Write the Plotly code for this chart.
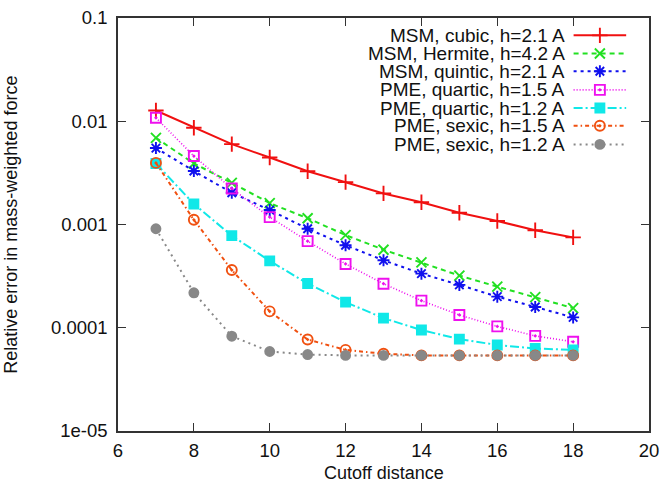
import plotly.graph_objects as go

cutoff = [7, 8, 9, 10, 11, 12, 13, 14, 15, 16, 17, 18]

msm_cubic_21 = [0.0127, 0.00865, 0.0060, 0.00445, 0.00328, 0.00257, 0.0020, 0.00164, 0.0013, 0.00108, 0.00088, 0.00075]
msm_hermite_42 = [0.0069, 0.0039, 0.00253, 0.00161, 0.00115, 0.00079, 0.00057, 0.00043, 0.00032, 0.00025, 0.000198, 0.000155]
msm_quintic_21 = [0.0055, 0.0033, 0.00203, 0.00138, 0.00091, 0.00063, 0.00045, 0.000334, 0.00026, 0.0002, 0.000159, 0.000126]
pme_quartic_15 = [0.0108, 0.0046, 0.00223, 0.00118, 0.00069, 0.000415, 0.000267, 0.000183, 0.000133, 0.000103, 0.0000834, 0.0000731]
pme_quartic_12 = [0.0039, 0.00158, 0.00078, 0.000444, 0.000268, 0.000177, 0.000124, 0.000095, 0.0000776, 0.0000681, 0.0000629, 0.000061]
pme_sexic_15 = [0.00395, 0.00111, 0.000362, 0.000144, 0.0000769, 0.000061, 0.000056, 0.000054, 0.000054, 0.000054, 0.000054, 0.000054]
pme_sexic_12 = [0.00091, 0.000218, 0.0000828, 0.0000589, 0.000055, 0.000054, 0.000054, 0.000054, 0.000054, 0.000054, 0.000054, 0.000054]

series_names = [
    "MSM, cubic, h=2.1 A",
    "MSM, Hermite, h=4.2 A",
    "MSM, quintic, h=2.1 A",
    "PME, quartic, h=1.5 A",
    "PME, quartic, h=1.2 A",
    "PME, sexic, h=1.5 A",
    "PME, sexic, h=1.2 A",
]
series_values = [msm_cubic_21, msm_hermite_42, msm_quintic_21, pme_quartic_15,
                 pme_quartic_12, pme_sexic_15, pme_sexic_12]

x_ticks = [6, 8, 10, 12, 14, 16, 18, 20]
y_tickvals = [1e-5, 1e-4, 1e-3, 1e-2, 1e-1]
y_ticktext = ["1e-05", "0.0001", "0.001", "0.01", "0.1"]

styles = [
    dict(color="#f01010", dash="solid", symbol="cross-thin-open", size=11, lw=2),
    dict(color="#22e022", dash="5px,4px", symbol="x-thin-open", size=10, lw=2),
    dict(color="#1010ee", dash="3px,4px", symbol="asterisk-open", size=10, lw=2),
    dict(color="#ee10ee", dash="1px,2px", symbol="square-open-dot", size=10, lw=1.6),
    dict(color="#10e8e8", dash="9px,3px,2px,3px", symbol="square", size=9, lw=2),
    dict(color="#f05010", dash="4px,3px,1.5px,3px", symbol="circle-open-dot", size=10, lw=2),
    dict(color="#888888", dash="2px,4px", symbol="circle", size=9, lw=2),
]

FONT = "Liberation Sans, Arial, sans-serif"
fig = go.Figure()

for name, vals, st in zip(series_names, series_values, styles):
    fig.add_trace(go.Scatter(
        x=cutoff, y=vals, name=name, mode="lines+markers",
        line=dict(color=st["color"], width=st["lw"], dash=st["dash"]),
        marker=dict(symbol=st["symbol"], size=st["size"], color=st["color"],
                    line=dict(color=st["color"], width=1.9)),
        showlegend=False,
    ))

# manual legend (text on the left, sample on the right) drawn on overlay axes
row_y = [0.958, 0.914, 0.871, 0.826, 0.782, 0.739, 0.694]
for name, st, ry in zip(series_names, styles, row_y):
    fig.add_trace(go.Scatter(
        x=[0.858, 0.957], y=[ry, ry], mode="lines", xaxis="x2", yaxis="y2",
        line=dict(color=st["color"], width=st["lw"], dash=st["dash"]),
        showlegend=False, hoverinfo="skip",
    ))
    fig.add_trace(go.Scatter(
        x=[0.9075], y=[ry], mode="markers", xaxis="x2", yaxis="y2",
        marker=dict(symbol=st["symbol"], size=st["size"], color=st["color"],
                    line=dict(color=st["color"], width=1.9)),
        showlegend=False, hoverinfo="skip",
    ))
    fig.add_annotation(x=0.846, y=ry, xref="paper", yref="paper", text=name,
                       showarrow=False, xanchor="right", yanchor="middle",
                       font=dict(size=19, color="#111111", family=FONT))

fig.add_annotation(x=0.5, y=-0.102, xref="paper", yref="paper", text="Cutoff distance",
                   showarrow=False, xanchor="center", yanchor="middle",
                   font=dict(size=18, color="#111111", family=FONT))
fig.add_annotation(x=-0.203, y=0.5, xref="paper", yref="paper",
                   text="Relative error in mass-weighted force", textangle=-90,
                   showarrow=False, xanchor="center", yanchor="middle",
                   font=dict(size=18, color="#111111", family=FONT))

axis_common = dict(showgrid=False, zeroline=False, showline=True, linecolor="#333333",
                   linewidth=1.5, mirror="ticks", ticks="inside", ticklen=8,
                   tickwidth=1.3, tickcolor="#333333", ticklabeloverflow="allow",
                   tickfont=dict(size=18.5, color="#111111", family=FONT))

fig.update_layout(
    width=666, height=484,
    margin=dict(l=118, r=12, t=7, b=53),
    paper_bgcolor="white", plot_bgcolor="white",
    font=dict(family=FONT, size=19, color="#111111"),
    xaxis=dict(range=[6, 20], tickvals=x_ticks, ticklabelstandoff=2, **axis_common),
    yaxis=dict(type="log", range=[-5, -1], tickvals=y_tickvals, ticktext=y_ticktext,
               ticklabelstandoff=5, **axis_common),
    xaxis2=dict(overlaying="x", range=[0, 1], visible=False, fixedrange=True),
    yaxis2=dict(overlaying="y", range=[0, 1], visible=False, fixedrange=True),
)

fig.write_html(
    "out.html",
    config={"displayModeBar": False},
    post_script="document.body.style.margin='0';document.body.style.padding='0';"
                "document.body.style.overflow='hidden';",
)
